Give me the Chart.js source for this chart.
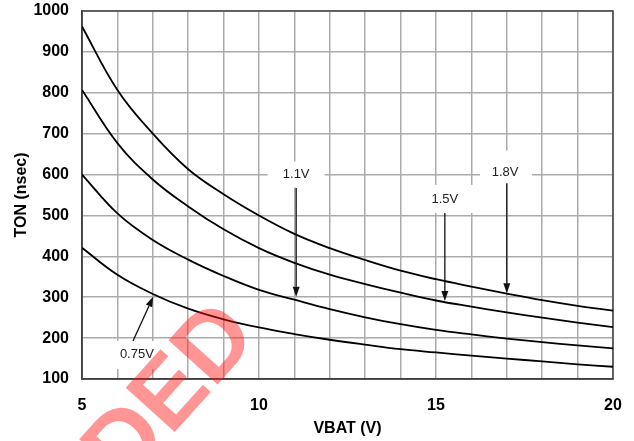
<!DOCTYPE html>
<html><head><meta charset="utf-8">
<script src="https://cdn.jsdelivr.net/npm/chart.js@4/dist/chart.umd.min.js"></script>
<style>html,body{margin:0;padding:0;background:#fff}#wrap{width:634px;height:441px}</style>
</head><body><div id="wrap"><canvas id="c" width="634" height="441"></canvas></div>
<script>
// ---- data ----
const vbat   = [5, 6, 7, 8, 9, 10, 11, 12, 13, 14, 15, 16, 17, 18, 19, 20];
const ton1v8 = [962, 807, 700, 613, 552, 500, 455, 420, 391, 365, 344, 326, 309, 293, 279, 267];
const ton1v5 = [807, 677, 588, 522, 466, 420, 384, 355, 332, 311, 292, 277, 263, 250, 238, 227];
const ton1v1 = [600, 505, 440, 392, 352, 318, 294, 271, 251, 234, 220, 209, 199, 190, 182, 175];
const ton075 = [421, 355, 308, 272, 246, 226, 210, 196, 184, 173, 165, 157, 150, 143, 136, 130];
const seriesNames = ['1.8V', '1.5V', '1.1V', '0.75V'];
const xTickLabels = [5, 10, 15, 20];
const yTickLabels = [100, 200, 300, 400, 500, 600, 700, 800, 900, 1000];

const FONT = 'Arial, "Liberation Sans", Helvetica, sans-serif';

function pts(ys) { return vbat.map((x, i) => ({x: x, y: ys[i]})); }

// callouts: label position, arrow start and arrow tip in data units
const callouts = [
  {text: '1.1V',  lx: 11.05, ly: 600, fx: 11.05, fy: 567, tx: 11.05, ty: 301, box: [0, 0, 57, 26]},
  {text: '1.5V',  lx: 15.25, ly: 538, fx: 15.25, fy: 506, tx: 15.25, ty: 291, box: [0, -1, 62, 28]},
  {text: '1.8V',  lx: 16.95, ly: 606, fx: 17.0,  fy: 579, tx: 17.0,  ty: 310, box: [1, -5, 52, 33]},
  {text: '0.75V', lx: 6.55,  ly: 161, fx: 6.44,  fy: 193, tx: 7.01,  ty: 301, box: [0, 1, 55, 28]}
];

const calloutPlugin = {
  id: 'callouts',
  beforeDatasetsDraw(chart) {
    const {ctx, chartArea: a, scales: {x, y}} = chart;
    ctx.save();
    ctx.fillStyle = '#ffffff';
    callouts.forEach(c => {
      const cx = x.getPixelForValue(c.lx) + c.box[0];
      const cy = y.getPixelForValue(c.ly) + c.box[1];
      ctx.fillRect(cx - c.box[2] / 2, cy - c.box[3] / 2, c.box[2], c.box[3]);
    });
    ctx.strokeStyle = '#444';
    ctx.lineWidth = 1.5;
    ctx.strokeRect(a.left, a.top, a.right - a.left, a.bottom - a.top);
    ctx.restore();
  },
  afterDatasetsDraw(chart) {
    const {ctx, scales: {x, y}} = chart;
    ctx.save();
    ctx.font = '13px ' + FONT;
    ctx.textAlign = 'center';
    ctx.textBaseline = 'middle';
    callouts.forEach(c => {
      ctx.fillStyle = '#222';
      ctx.fillText(c.text, x.getPixelForValue(c.lx), y.getPixelForValue(c.ly));
      const x0 = x.getPixelForValue(c.fx), y0 = y.getPixelForValue(c.fy);
      const x1 = x.getPixelForValue(c.tx), y1 = y.getPixelForValue(c.ty);
      const ang = Math.atan2(y1 - y0, x1 - x0);
      const hl = 10, hw = 3.5;
      const bx = x1 - hl * Math.cos(ang), by = y1 - hl * Math.sin(ang);
      ctx.strokeStyle = '#111';
      ctx.lineWidth = 1.3;
      ctx.beginPath(); ctx.moveTo(x0, y0); ctx.lineTo(bx, by); ctx.stroke();
      ctx.fillStyle = '#111';
      ctx.beginPath();
      ctx.moveTo(x1, y1);
      ctx.lineTo(bx + hw * Math.sin(ang), by - hw * Math.cos(ang));
      ctx.lineTo(bx - hw * Math.sin(ang), by + hw * Math.cos(ang));
      ctx.closePath(); ctx.fill();
    });
    ctx.restore();
  },
  afterDraw(chart) {
    const ctx = chart.ctx;
    ctx.save();
    ctx.translate(240, 320);
    ctx.rotate(-48 * Math.PI / 180);
    ctx.font = 'bold 96px ' + FONT;
    ctx.fillStyle = 'rgba(255, 20, 20, 0.45)';
    ctx.textAlign = 'right';
    ctx.textBaseline = 'middle';
    ctx.fillText('RECOMMENDED', 0, 0);
    ctx.restore();
  }
};

new Chart(document.getElementById('c'), {
  type: 'scatter',
  data: {
    datasets: [ton1v8, ton1v5, ton1v1, ton075].map((d, i) => ({
      label: seriesNames[i],
      data: pts(d),
      showLine: true,
      borderColor: '#000',
      borderWidth: 1.8,
      pointRadius: 0,
      tension: 0.4,
      fill: false
    }))
  },
  options: {
    responsive: false,
    animation: false,
    devicePixelRatio: 1,
    layout: {padding: {top: 11, right: 21, left: 0, bottom: 0}},
    plugins: {legend: {display: false}, tooltip: {enabled: false}},
    scales: {
      x: {
        type: 'linear', min: 5, max: 20,
        afterFit(s) { s.height = 62; },
        ticks: {
          stepSize: 1, autoSkip: false, maxRotation: 0, padding: 0,
          color: '#000', font: {family: FONT, size: 16, weight: 'bold'},
          callback: v => xTickLabels.includes(v) ? String(v) : ''
        },
        grid: {color: '#ababab', lineWidth: 1.5, drawTicks: true, tickLength: 17, tickColor: 'rgba(0,0,0,0)'},
        border: {display: true, color: '#333', width: 1.5},
        title: {display: true, text: 'VBAT (V)', color: '#000',
                font: {family: FONT, size: 16, weight: 'bold'}, padding: {top: 0, bottom: 3}}
      },
      y: {
        type: 'linear', min: 100, max: 1000,
        afterFit(s) { s.width = 82; },
        ticks: {
          stepSize: 100, padding: 0, color: '#000',
          font: {family: FONT, size: 16, weight: 'bold'},
          callback: v => yTickLabels.includes(v) ? String(v) : ''
        },
        grid: {color: '#ababab', lineWidth: 1.5, drawTicks: true, tickLength: 13, tickColor: 'rgba(0,0,0,0)'},
        border: {display: true, color: '#333', width: 1.5},
        title: {display: true, text: 'TON (nsec)', color: '#000',
                font: {family: FONT, size: 16, weight: 'bold'}, padding: {top: 12, bottom: 0}}
      }
    }
  },
  plugins: [calloutPlugin]
});
</script></body></html>
